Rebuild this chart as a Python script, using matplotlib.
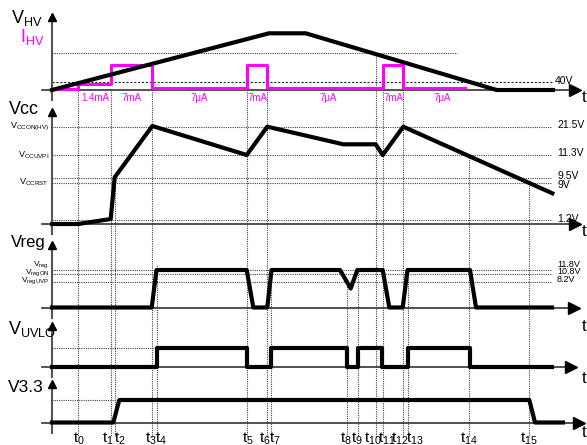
import matplotlib
matplotlib.use("Agg")
import matplotlib.pyplot as plt

plt.rcParams['font.family'] = ['Liberation Sans', 'DejaVu Sans']
plt.rcParams['mathtext.fontset'] = 'custom'
plt.rcParams['mathtext.rm'] = 'Liberation Sans'
plt.rcParams['mathtext.it'] = 'Liberation Sans:italic'

# time marks t0..t15 (diagram time units)
t_marks = [78.3, 110.7, 114.7, 152.3, 156.5, 246.7, 267.3, 271.0,
           347.0, 358.0, 375.7, 382.7, 403.3, 408.3, 469.3, 529.3]
t_names = ['0', '1', '2', '3', '4', '5', '6', '7', '8', '9', '10', '11', '12', '13', '14', '15']

# HV pin voltage and current
vhv_time = [52, 269, 305.7, 496.7, 553]
vhv_level = [0, 56.7, 56.7, 0, 0]
ihv_time = [52, 78.3, 110.7, 152.3, 246.7, 267.3, 382.7, 403.3, 465]
ihv_level = [1, 6, 25, 1.7, 25, 1.7, 25, 1.7, 1.7]
ihv_labels = ['1.4mA', '7mA', '7\u03bcA', '7mA', '7\u03bcA', '7mA', '7\u03bcA']
ihv_label_x = [95, 131, 199, 257, 328, 393, 442]

# VCC
vcc_time = [52, 78.3, 110.7, 114.7, 152.3, 246.7, 267.3, 343.3, 375.7, 382.7, 403.3, 552.3]
vcc_level = [0, 0, 5, 46.7, 98, 69, 97.3, 79.7, 79.7, 69, 97.3, 30.7]
vcc_thr = [97.3, 69, 45.7, 41, 3.7]
vcc_thr_labels = ['21.5V', '11.3V', '9.5V', '9V', '1.2V']

# Vreg
vreg_time = [52, 151.7, 156.5, 246.7, 253.3, 267.3, 271.5, 340, 350.7, 357.3,
             382.7, 389.3, 402.7, 407.5, 470, 476, 552]
vreg_level = [0, 0, 37.5, 37.5, 0, 0, 37.5, 37.5, 19, 37.5,
              37.5, 0, 0, 37.5, 37.5, 0, 0]
vreg_thr = [37.5, 33.5, 25.8]
vreg_thr_labels = ['11.8V', '10.8V', '8.2V']

# VUVLO (logic)
uvlo_time = [52, 156.5, 246.7, 271.0, 347.0, 358.3, 382.2, 407.8, 469.5, 552]
uvlo_state = [0, 1, 0, 1, 0, 1, 0, 1, 0, 0]

# V3.3
v33_time = [52, 113.3, 119.3, 529.3, 535, 563]
v33_state = [0, 0, 1, 1, 0, 0]

# ---- layout ----
base = {'hv': 90, 'vcc': 224, 'vreg': 307.5, 'uvlo': 366.5, 'v33': 422.5}
x0 = 52
MAG = '#ff00ff'
TR = 3.0

fig = plt.figure(figsize=(5.87, 4.45), dpi=100)
ax = fig.add_axes([0, 0, 1, 1])
ax.set_xlim(0, 587)
ax.set_ylim(445, 0)
ax.axis('off')


def hline(y, x1, x2, ls=(0, (1, 1)), c='#444444', lw=0.8):
    ax.plot([x1, x2], [y, y], ls=ls, color=c, lw=lw, zorder=1)


def axes_frame(b, top, xend, tlab_y):
    ax.plot([x0, x0], [b + 10, top + 4], color='#555555', lw=1.5, zorder=2)
    ax.plot([x0], [top + 4], marker='^', ms=6, color='black', zorder=3)
    ax.plot([42, xend - 6], [b, b], color='#333333', lw=1.2, zorder=2)
    ax.plot([xend - 5], [b], marker='>', ms=8, color='black', zorder=3)
    ax.text(584, tlab_y, 't', fontsize=12, ha='center', va='center')


# vertical dotted time lines
t_tops = [90, 90, 177, 65, 265, 65, 65, 270, 282, 270, 53, 65, 65, 270, 155, 183]
for tx, ty in zip(t_marks, t_tops):
    ax.plot([tx, tx], [ty, 437], ls=(0, (1, 1)), color='#444444', lw=0.8, zorder=1)

# bottom labels
label_dx = [1, -3, 5, -1, 4, 1, -2, 4, -1, -1, -3, 4, -3, 7, 0, 0]
for tx, dx, n in zip(t_marks, label_dx, t_names):
    ax.text(tx + dx, 447, r'$\mathrm{t_{%s}}$' % n, fontsize=11, ha='center', va='bottom')

# ---- HV panel ----
b = base['hv']
hline(b - 36.7, x0, 457)
hline(b - 8.3, x0, 552, ls=(0, (2, 1.5)), c='#222222')
ax.text(555, b - 9, '40V', fontsize=7.5, va='center')
axes_frame(b, 13, 580, b + 7)
ax.step(ihv_time, [b - v for v in ihv_level], where='post', color=MAG, lw=2.2, zorder=4)
ax.plot(vhv_time, [b - v for v in vhv_level], color='black', lw=TR, zorder=5,
        solid_joinstyle='miter')
for lab, lx in zip(ihv_labels, ihv_label_x):
    ax.text(lx, b + 8, lab, fontsize=7, color=MAG, ha='center', va='center')
ax.text(11, 18, r'V$_{\mathrm{HV}}$', fontsize=13, va='center')
ax.text(20, 37, r'I$_{\mathrm{HV}}$', fontsize=13, va='center', color=MAG)

# ---- VCC panel ----
b = base['vcc']
for lv, lab in zip(vcc_thr, vcc_thr_labels):
    hline(b - lv, x0, 552)
dy = {'9.5V': -2.5, '9V': 2.5}
for lv, lab in zip(vcc_thr, vcc_thr_labels):
    ax.text(557, b - lv + dy.get(lab, -1.5), lab, fontsize=7.5, va='center')
axes_frame(b, 108, 580, b + 8)
ax.plot(vcc_time, [b - v for v in vcc_level], color='black', lw=TR, zorder=5)
ax.text(9, 109, 'Vcc', fontsize=13, va='center')
ax.text(49, b - 97.3, r'V$_{\mathrm{CCON(HV)}}$', fontsize=6.5, ha='right', va='center')
ax.text(49, b - 69, r'V$_{\mathrm{CCUVPI}}$', fontsize=6.5, ha='right', va='center')
ax.text(49, b - 41.5, r'V$_{\mathrm{CCRST}}$', fontsize=6.5, ha='right', va='center')

# ---- Vreg panel ----
b = base['vreg']
for lv in vreg_thr:
    hline(b - lv, x0, 552)
for lab, yy in zip(vreg_thr_labels, [264.5, 272, 279.5]):
    ax.text(557, yy, lab, fontsize=6.5, va='center')
axes_frame(b, 241, 579, b + 19)
ax.plot(vreg_time, [b - v for v in vreg_level], color='black', lw=TR, zorder=5)
ax.text(11, 243, 'Vreg', fontsize=12, va='center')
ax.text(49, 265, r'V$_{\mathrm{reg}}$', fontsize=6, ha='right', va='center')
ax.text(49, 272.5, r'V$_{\mathrm{regON}}$', fontsize=6, ha='right', va='center')
ax.text(49, 280.5, r'V$_{\mathrm{regUVP}}$', fontsize=6, ha='right', va='center')

# ---- VUVLO panel ----
b = base['uvlo']
hi = 18.2
hline(b - hi, x0, 160)
axes_frame(b, 322, 576, b + 12)
ax.step(uvlo_time, [b - s * hi for s in uvlo_state], where='post', color='black', lw=TR, zorder=5)
ax.text(8, 329, r'V$_{\mathrm{UVLO}}$', fontsize=13, va='center')

# ---- V3.3 panel ----
b = base['v33']
hi = 22.5
hline(b - hi, x0, 120)
axes_frame(b, 380, 584, b + 10)
ax.plot(v33_time, [b - s * hi for s in v33_state], color='black', lw=TR, zorder=5)
ax.text(8, 387, 'V3.3', fontsize=12.5, va='center')

fig.savefig('out.png', dpi=100)
